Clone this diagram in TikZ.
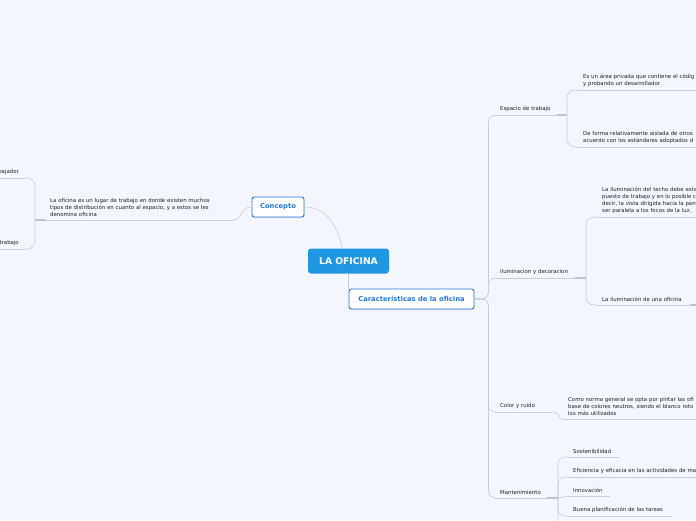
\documentclass[tikz,border=0pt]{standalone}
\usepackage{fontspec}
\setmainfont{DejaVu Sans}
\usepackage{tikz}
\usetikzlibrary{shadows}
\definecolor{pagebg}{HTML}{F3F6FD}
\definecolor{rootblue}{HTML}{1F97E3}
\definecolor{topicblue}{HTML}{2678D8}
\definecolor{linegray}{HTML}{C9CCD4}
\definecolor{forkgray}{HTML}{BFC2C9}
\definecolor{leaftext}{HTML}{222222}

\begin{document}
\begin{tikzpicture}[
    x=1pt, y=-1pt,
    root/.style={rounded corners=3pt, fill=rootblue, text=white, minimum width=81, minimum height=25,
                 font=\fontsize{9.2}{11}\selectfont\bfseries},
    topic/.style={rounded corners=2.5pt, draw=topicblue, line width=0.9pt, fill=white, text=topicblue,
                  minimum height=20, font=\fontsize{6.8}{8}\selectfont\bfseries,
                  drop shadow={opacity=0.25, shadow xshift=0.4pt, shadow yshift=-1pt}},
    leaf/.style={anchor=south west, align=left, text=leaftext, inner xsep=5, inner ysep=3,
                 font=\fontsize{5.4}{7}\selectfont},
    uline/.style={draw=linegray, line width=0.6pt},
    link/.style={draw=linegray, line width=0.6pt},
    fork/.style={draw=forkgray, line width=1.5pt},
  ]
  \fill[pagebg] (0,0) rectangle (696,520);
  \useasboundingbox (0,0) rectangle (696,520);
  \clip (0,0) rectangle (696,520);

  % central topic and main branches
  \node[root] (oficina) at (348.5,261) {LA OFICINA};
  \node[topic, minimum width=52] (concepto) at (278,207) {Concepto};
  \node[topic, minimum width=125] (caract) at (411.5,299) {Características de la oficina};

  \draw[link] ([xshift=-6pt]oficina.north) .. controls +(-6,-26) and +(20,0) .. (concepto.east);
  \draw[link] (oficina.south) -- (oficina.south |- caract.north);

  % left side
  \node[leaf, text width=178] (def) at (45,220)
    {La oficina es un lugar de trabajo en donde existen muchos\\tipos de distribución en cuanto al espacio, y a estos se les\\denomina oficina};
  \node[leaf, anchor=south east, align=right, text width=30, inner xsep=6] (lt1) at (25,178) {bajador};
  \node[leaf, anchor=south east, align=right, text width=30, inner xsep=6] (lt2) at (25,249) {trabajo};
  \coordinate (lfork) at (35,220);

  \draw[link] (concepto.west) .. controls +(-12,0) and +(9,0) .. (def.south east);
  \draw[fork] (def.south west) -- (lfork);
  \draw[link, rounded corners=8] (lt1.south east) -| (lfork) |- (lt2.south east);
  \foreach \n in {def,lt1,lt2} \draw[uline] (\n.south west) -- (\n.south east);

  % right side
  \node[leaf, text width=52] (esp) at (495,115) {Espacio de trabajo};
  \node[leaf, text width=70] (ilu) at (495,278) {Iluminacion y decoracion};
  \node[leaf, text width=47] (col) at (495,412) {Color y ruido};
  \node[leaf, text width=42] (mant) at (495,498) {Mantenimiento};
  \foreach \n in {esp,ilu,col,mant}
    \draw[link, rounded corners=7] (caract.east) -- ++(14,0) |- (\n.south west);

  % espacio de trabajo
  \node[leaf, text width=140] (e1) at (578,90) {Es un área privada que contiene el códig\\y probando un desarrollador};
  \node[leaf, text width=140] (e2) at (578,147) {De forma relativamente aislada de otros\\acuerdo con los estándares adoptados d};
  \coordinate (efork) at (567,115);
  \draw[fork] (esp.south east) -- (efork);
  \draw[link, rounded corners=8] (e1.south west) -| (efork) |- (e2.south west);

  % iluminacion
  \node[leaf, text width=140] (i1) at (597,217)
    {La iluminación del techo debe esta\\puesto de trabajo y en lo posible c\\decir, la vista dirigida hacia la pant\\ser paralela a los focos de la luz.};
  \node[leaf, text width=83] (i2) at (597,305) {La iluminación de una oficina};
  \coordinate (ifork) at (586,278);
  \coordinate (iout) at (705,305);
  \draw[fork] (ilu.south east) -- (ifork);
  \draw[link, rounded corners=8] (i1.south west) -| (ifork) |- (i2.south west);
  \draw[fork] (i2.south east) -- (iout);

  % color y ruido
  \node[leaf, text width=140] (c1) at (563,419)
    {Como norma general se opta por pintar las ofi\\base de colores neutros, siendo el blanco roto\\los más utilizados};
  \draw[link] (col.south east) .. controls +(7,0) and +(-5,0) .. (c1.south west);

  % mantenimiento
  \node[leaf, text width=41] (m1) at (568,457) {Sostenibilidad};
  \node[leaf, text width=140] (m2) at (568,477) {Eficiencia y eficacia en las actividades de ma};
  \node[leaf, text width=32] (m3) at (568,496) {Innovación};
  \node[leaf, text width=94] (m4) at (568,516) {Buena planificación de las tareas};
  \coordinate (mfork) at (558,498);
  \coordinate (mmore) at (568,540);
  \draw[fork] (mant.south east) -- (mfork);
  \draw[link, rounded corners=7] (m1.south west) -| (mfork) |- (mmore);
  \draw[link, rounded corners=7] (mfork) |- (m2.south west);
  \draw[link, rounded corners=7] (mfork) |- (m4.south west);
  \draw[link] (mfork) -- (m3.south west);

  \foreach \n in {esp,ilu,col,mant,e1,e2,i1,i2,c1,m1,m2,m3,m4}
    \draw[uline] (\n.south west) -- (\n.south east);
\end{tikzpicture}
\end{document}
